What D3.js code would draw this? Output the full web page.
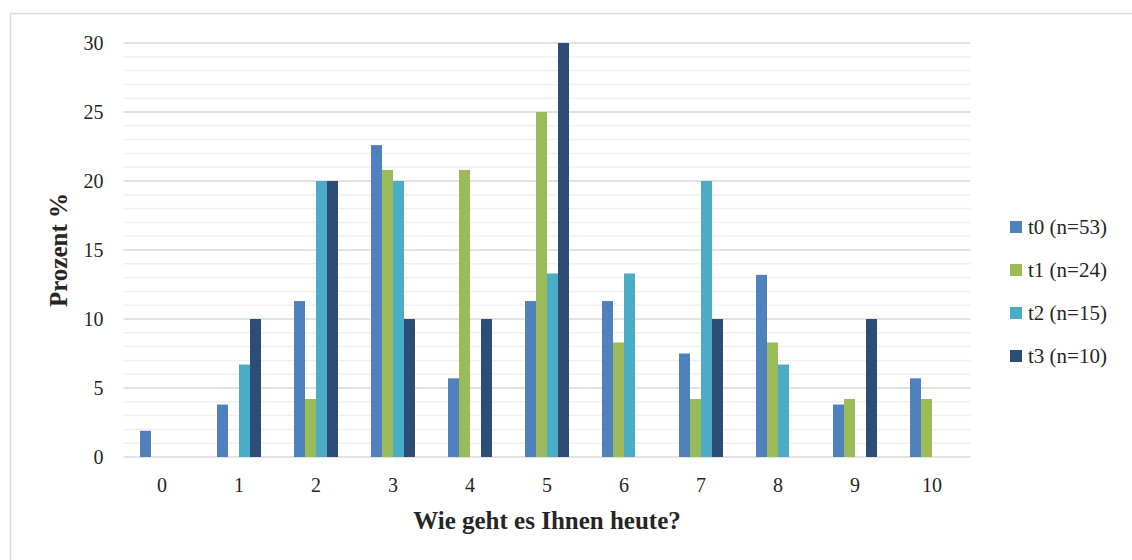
<!DOCTYPE html>
<html>
<head>
<meta charset="utf-8">
<script src="https://cdn.jsdelivr.net/npm/d3@7"></script>
<style>
  html, body { margin: 0; padding: 0; background: #fff; }
  svg { display: block; }
  svg text { font-family: "Liberation Serif", "DejaVu Serif", serif; fill: #262626; }
</style>
</head>
<body>
<svg id="chart" width="1132" height="560"></svg>
<script>
// Antwortskala und Anteile je Messzeitpunkt (in Prozent)
const categories = ["0", "1", "2", "3", "4", "5", "6", "7", "8", "9", "10"];
const seriesNames = ["t0 (n=53)", "t1 (n=24)", "t2 (n=15)", "t3 (n=10)"];
const t0 = [1.9, 3.8, 11.3, 22.6, 5.7, 11.3, 11.3, 7.5, 13.2, 3.8, 5.7];
const t1 = [0, 0, 4.2, 20.8, 20.8, 25.0, 8.3, 4.2, 8.3, 4.2, 4.2];
const t2 = [0, 6.7, 20.0, 20.0, 0, 13.3, 13.3, 20.0, 6.7, 0, 0];
const t3 = [0, 10, 20, 10, 10, 30, 0, 10, 0, 10, 0];
const yTicks = [0, 5, 10, 15, 20, 25, 30];
const colors = ["#4f81bd", "#9bbb59", "#4bacc6", "#2c4d75"];

const series = [t0, t1, t2, t3];
const svg = d3.select("#chart");
const serif = '"Liberation Serif", "DejaVu Serif", serif';

// Rahmen um die Grafik
svg.append("rect")
  .attr("x", 10.5).attr("y", 13.5)
  .attr("width", 1140).attr("height", 600)
  .attr("fill", "#fff").attr("stroke", "#d9d9d9").attr("stroke-width", 1.5);

const plot = { left: 123.5, right: 970.5, top: 43, bottom: 457 };

const x = d3.scaleBand().domain(categories)
  .range([plot.left, plot.right]).paddingInner(0).paddingOuter(0);
const groupWidth = 44;
const xs = d3.scaleBand().domain(d3.range(series.length))
  .range([(x.bandwidth() - groupWidth) / 2, (x.bandwidth() + groupWidth) / 2]);
const y = d3.scaleLinear().domain([0, 30]).range([plot.bottom, plot.top]);

// Hilfslinien (fein) und Hauptlinien
const grid = svg.append("g");
grid.selectAll("line.minor")
  .data(d3.range(1, 30).filter(v => v % 5 !== 0))
  .join("line")
  .attr("x1", plot.left).attr("x2", plot.right)
  .attr("y1", d => y(d)).attr("y2", d => y(d))
  .attr("stroke", "#f0f0f0").attr("stroke-width", 1.5);
grid.selectAll("line.major")
  .data(yTicks)
  .join("line")
  .attr("x1", plot.left).attr("x2", plot.right)
  .attr("y1", d => y(d)).attr("y2", d => y(d))
  .attr("stroke", "#d9d9d9").attr("stroke-width", 1.5);

// Balken
series.forEach((vals, si) => {
  svg.append("g").selectAll("rect")
    .data(vals.map((v, i) => ({ cat: categories[i], v })))
    .join("rect")
    .attr("x", d => x(d.cat) + xs(si))
    .attr("width", xs.bandwidth())
    .attr("y", d => y(d.v))
    .attr("height", d => y(0) - y(d.v))
    .attr("fill", colors[si]);
});

// Achsen
const yAxis = svg.append("g")
  .attr("transform", `translate(${plot.left - 20},0)`)
  .call(d3.axisLeft(y).tickValues(yTicks).tickSize(0).tickPadding(0));
yAxis.select(".domain").remove();
yAxis.selectAll("text")
  .style("font-family", serif).style("font-size", "20px").style("fill", "#262626");

const xAxis = svg.append("g")
  .attr("transform", `translate(0,${plot.bottom})`)
  .call(d3.axisBottom(x).tickSize(0).tickPadding(21));
xAxis.select(".domain").remove();
xAxis.selectAll("text")
  .style("font-family", serif).style("font-size", "20px").style("fill", "#262626");

// Achsentitel
svg.append("text")
  .attr("x", (plot.left + plot.right) / 2).attr("y", 529)
  .attr("text-anchor", "middle")
  .style("font-family", serif).style("font-size", "25px").style("font-weight", "bold")
  .text("Wie geht es Ihnen heute?");
svg.append("text")
  .attr("transform", `translate(67,${(plot.top + plot.bottom) / 2}) rotate(-90)`)
  .attr("text-anchor", "middle")
  .style("font-family", serif).style("font-size", "25px").style("font-weight", "bold")
  .text("Prozent %");

// Legende
const legend = svg.append("g").attr("transform", "translate(1010,221)");
const item = legend.selectAll("g").data(seriesNames).join("g")
  .attr("transform", (d, i) => `translate(0,${i * 43})`);
item.append("rect").attr("width", 12).attr("height", 12)
  .attr("fill", (d, i) => colors[i]);
item.append("text").attr("x", 18).attr("y", 6).attr("dy", "0.35em")
  .style("font-family", serif).style("font-size", "21px")
  .text(d => d);
</script>
</body>
</html>
